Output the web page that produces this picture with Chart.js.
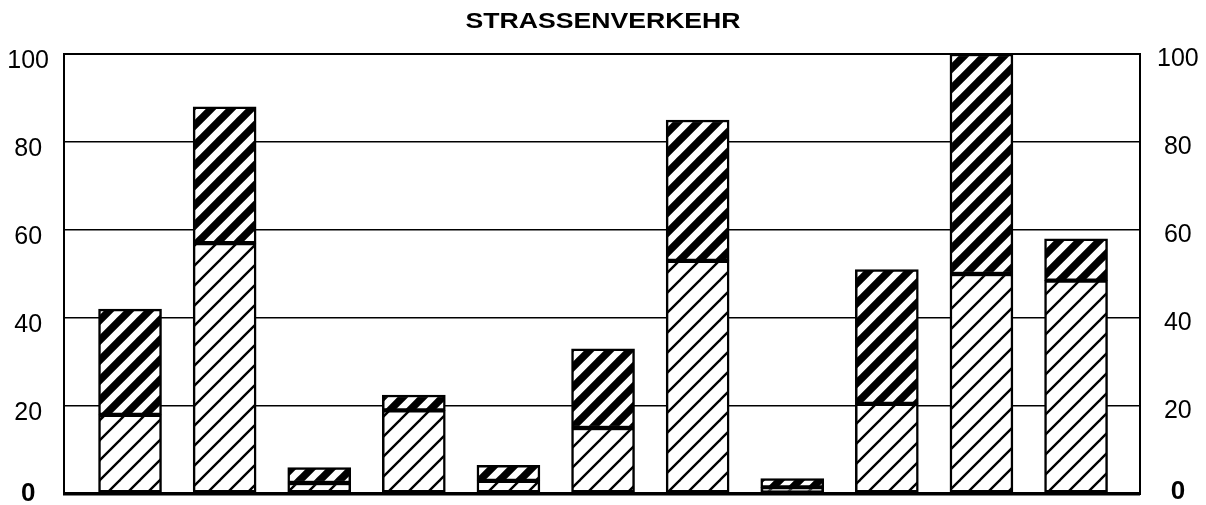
<!DOCTYPE html>
<html>
<head>
<meta charset="utf-8">
<script src="https://cdn.jsdelivr.net/npm/chart.js@4"></script>
<style>
  html, body { margin: 0; padding: 0; background: #fff; }
  #wrap { width: 1206px; height: 505px; position: relative; }
</style>
</head>
<body>
<div id="wrap"><canvas id="c"></canvas></div>
<script>
// ---- data ----
const chartTitle = 'STRASSENVERKEHR';
const barPositions = [0, 1, 2, 3, 4, 5, 6, 7, 8, 9, 10];
const lowerValues = [18, 57, 2.5, 19, 3, 15, 53, 1.5, 20.5, 50, 48.5];
const upperValues = [24, 31, 3.5, 3.5, 3.5, 18, 32, 2, 30.5, 50, 9.5];
const yTicks = [0, 20, 40, 60, 80, 100];

// ---- hatch patterns ----
function hatch(lineWidth) {
  const s = 20;
  const c = document.createElement('canvas');
  c.width = s; c.height = s;
  const g = c.getContext('2d');
  g.fillStyle = '#fff';
  g.fillRect(0, 0, s, s);
  g.strokeStyle = '#000';
  g.lineWidth = lineWidth;
  g.lineCap = 'square';
  for (const k of [-s, 0, s]) {
    g.beginPath();
    g.moveTo(k, s);
    g.lineTo(k + s, 0);
    g.stroke();
  }
  return g.createPattern(c, 'repeat');
}
const lightHatch = hatch(2.4);
const darkHatch = hatch(7.5);

const toPoints = vals => vals.map((v, i) => ({ x: barPositions[i], y: v }));

const titleStretch = {
  id: 'titleStretch',
  beforeDraw(chart) {
    const tb = chart.titleBlock;
    if (!tb || tb._stretched) return;
    const orig = tb.draw.bind(tb);
    tb.draw = function (area) {
      const ctx = this.ctx;
      ctx.save();
      const cx = (this.left + this.right) / 2;
      ctx.translate(cx, 0);
      ctx.scale(1.21, 1);
      ctx.translate(-cx, 0);
      orig(area);
      ctx.restore();
    };
    tb._stretched = true;
  }
};

// the bold "0" sits a little higher than the other labels in the reference
const tickFont = ctx => (ctx.tick && ctx.tick.value === 0)
  ? { family: 'Liberation Sans, Arial, sans-serif', size: 26, weight: 'bold', lineHeight: 0.55 }
  : { family: 'Liberation Sans, Arial, sans-serif', size: 25, weight: 'normal', lineHeight: 1 };
const tickLabel = v => (v === 0 ? ['0', ''] : String(v));

new Chart(document.getElementById('c'), {
  type: 'bar',
  data: {
    datasets: [
      {
        label: 'lower',
        data: toPoints(lowerValues),
        backgroundColor: lightHatch,
        borderColor: '#000',
        borderWidth: 2.5,
        borderSkipped: false,
        barThickness: 63,
        yAxisID: 'y'
      },
      {
        label: 'upper',
        data: toPoints(upperValues),
        backgroundColor: darkHatch,
        borderColor: '#000',
        borderWidth: 2.5,
        borderSkipped: false,
        barThickness: 63,
        yAxisID: 'y'
      }
    ]
  },
  options: {
    responsive: true,
    maintainAspectRatio: false,
    animation: false,
    layout: { padding: { top: 0, bottom: 11, left: 0, right: 0 } },
    plugins: {
      legend: { display: false },
      tooltip: { enabled: false },
      title: {
        display: true,
        text: chartTitle,
        color: '#000',
        font: { family: 'Liberation Sans, Arial, sans-serif', size: 22, weight: 'bold', lineHeight: 1.2 },
        padding: { top: 8.8, bottom: 18.8 }
      }
    },
    scales: {
      x: {
        type: 'linear',
        display: false,
        stacked: true,
        offset: false,
        grid: { offset: false },
        min: -0.698,
        max: 10.676
      },
      y: {
        position: 'left',
        stacked: true,
        min: 0,
        max: 100,
        afterBuildTicks: s => { s.ticks = yTicks.map(v => ({ value: v })); },
        afterFit: s => { s.width = 64; s.paddingTop = 0; s.paddingBottom = 0; },
        grid: {
          color: '#000',
          lineWidth: ctx => (ctx.tick && ctx.tick.value === 0) ? 3.5 : (ctx.tick && ctx.tick.value === 100 ? 2 : 1.6),
          drawTicks: false
        },
        border: { display: true, color: '#000', width: 2 },
        ticks: {
          color: '#000',
          font: tickFont,
          callback: tickLabel,
          padding: 15,
          crossAlign: 'center',
          labelOffset: 7
        }
      },
      y2: {
        position: 'right',
        min: 0,
        max: 100,
        afterBuildTicks: s => { s.ticks = yTicks.map(v => ({ value: v })); },
        afterFit: s => { s.width = 66; s.paddingTop = 0; s.paddingBottom = 0; },
        grid: { display: false, drawTicks: false },
        border: { display: true, color: '#000', width: 2 },
        ticks: {
          color: '#000',
          font: tickFont,
          callback: tickLabel,
          padding: 17,
          crossAlign: 'center',
          labelOffset: 5
        }
      }
    }
  },
  plugins: [titleStretch]
});
</script>
</body>
</html>
